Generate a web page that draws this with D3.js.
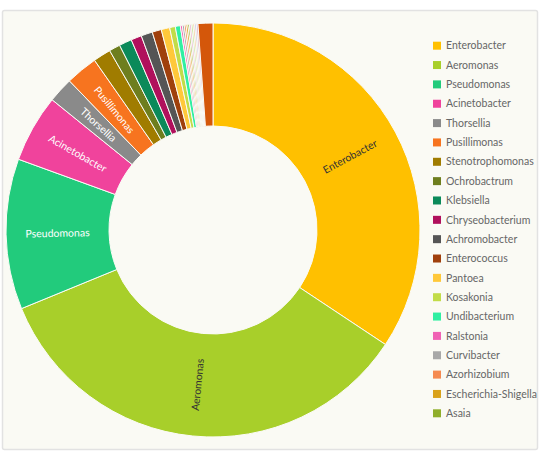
<!DOCTYPE html>
<html><head><meta charset="utf-8">
<script src="https://cdn.jsdelivr.net/npm/d3@7"></script>
<style>body{margin:0;background:#fff;} svg{display:block}</style>
</head><body><svg id="c" width="540" height="452"></svg>
<script>
const categories = ["Enterobacter","Aeromonas","Pseudomonas","Acinetobacter","Thorsellia","Pusillimonas","Stenotrophomonas","Ochrobactrum","Klebsiella","Chryseobacterium","Achromobacter","Enterococcus","Pantoea","Kosakonia","Undibacterium","Ralstonia","Curvibacter","Azorhizobium","Escherichia-Shigella","Asaia","Other genus A","Other genus B","Other genus C","Other genus D","Other genus E","Others"];
const values = [34.33,34.47,11.75,5.28,1.97,2.5,1.38,0.87,0.99,0.83,0.89,0.72,0.66,0.44,0.39,0.153,0.153,0.139,0.139,0.125,0.14,0.13,0.13,0.13,0.13,1.16];
const colors = ["#FFC000","#A8CF2A","#22CB7C","#F0439C","#8A8A8A","#F7741F","#A07C00","#6E7E1E","#0B8A5A","#B0105C","#555555","#A0400C","#FFC83A","#C2DC48","#30EFA2","#F062B4","#A8A8A8","#F58A50","#D9A21B","#8FAE2A","#E8B4D8","#B8E08A","#F4C890","#C8C8E8","#E0A0C0","#D4570A"];
const legendCount = 20;
const labelMinShare = 1.5;
const darkLabels = ["Enterobacter","Aeromonas"];

const svg = d3.select("#c");
svg.append("rect").attr("x",2.5).attr("y",10.5).attr("width",535).attr("height",439)
  .attr("rx",2).attr("fill","#fafaf4").attr("stroke","#e2e2e2").attr("stroke-width",1.5);

const cx = 213, cy = 230, R = 207, r0 = 104;
const data = categories.map((c,i)=>({name:c, value:values[i], color:colors[i]}));
const pie = d3.pie().value(d=>d.value).sort(null);
const arc = d3.arc().innerRadius(r0).outerRadius(R);
const g = svg.append("g").attr("transform",`translate(${cx},${cy})`);
const arcs = pie(data);
g.selectAll("path").data(arcs).join("path")
  .attr("d",arc).attr("fill",d=>d.data.color)
  .attr("stroke","#fbfbf6").attr("stroke-width",1);

const total = d3.sum(values);
const labelArc = d3.arc().innerRadius((r0+R)/2).outerRadius((r0+R)/2);
g.selectAll("text.lbl").data(arcs.filter(d=>d.data.value/total*100 >= labelMinShare)).join("text")
  .attr("class","lbl")
  .attr("transform", d=>{
    const [x,y] = labelArc.centroid(d);
    let a = (d.startAngle+d.endAngle)/2*180/Math.PI - 90;
    if (a > 90) a -= 180;
    return `translate(${x},${y}) rotate(${a})`;
  })
  .attr("text-anchor","middle").attr("dy","0.35em")
  .attr("font-family","Lato, sans-serif").attr("font-size",10.5)
  .attr("fill", d=>darkLabels.includes(d.data.name) ? "#333" : "#fff")
  .text(d=>d.data.name);

const legend = svg.append("g");
const ly = d3.scalePoint().domain(categories.slice(0,legendCount)).range([45.7, 413.3]);
const items = legend.selectAll("g").data(data.slice(0,legendCount)).join("g")
  .attr("transform", d=>`translate(433,${ly(d.name)})`);
items.append("rect").attr("x",0).attr("y",-4).attr("width",8).attr("height",8).attr("fill",d=>d.color);
items.append("text").attr("x",13).attr("dy","0.35em")
  .attr("font-family","Lato, sans-serif").attr("font-size",10.5).attr("fill","#666")
  .text(d=>d.name);
</script></body></html>
